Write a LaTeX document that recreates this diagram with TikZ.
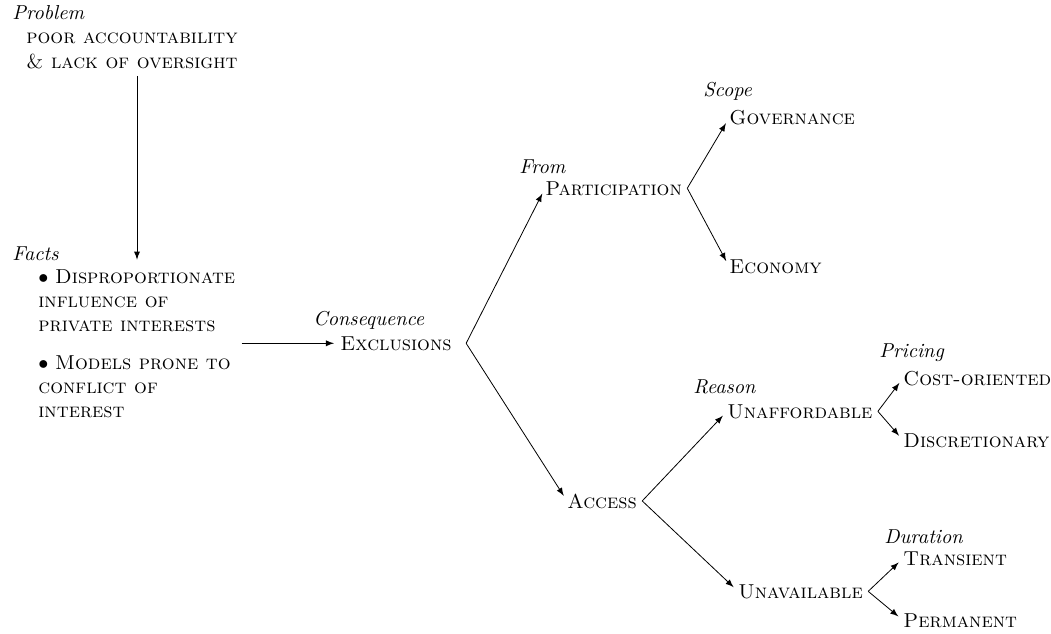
\documentclass[tikz,border=0pt]{standalone}
\usetikzlibrary{arrows.meta}
\begin{document}
\begin{tikzpicture}[x=0.496pt,y=-0.496pt,
  lbl/.style={anchor=base west,inner sep=0pt,font=\itshape},
  item/.style={anchor=base west,inner sep=0pt,font=\scshape},
  block/.style={anchor=base west,inner sep=0pt},
  link/.style={-latex,shorten >=3pt}]
\useasboundingbox (0,0) rectangle (1051,634);

% problem statement and supporting facts
\node[lbl] (lproblem) at (12,20) {Problem};
\node[block] (problem) at (26,44) {\begin{tabular}[t]{@{}l@{}}
  \textsc{poor accountability}\\
  \textsc{\& lack of oversight}
\end{tabular}};
\node[lbl] (lfacts) at (12,260) {Facts};
\node[block] (facts) at (38,283) {\begin{tabular}[t]{@{}l@{}}
  $\bullet$ \textsc{Disproportionate}\\
  \textsc{influence of}\\
  \textsc{private interests}\\[6.8pt]
  $\bullet$ \textsc{Models prone to}\\
  \textsc{conflict of}\\
  \textsc{interest}
\end{tabular}};
\coordinate (axis) at (137,0);

% consequence tree
\node[lbl] (lconseq) at (313,325) {Consequence};
\node[item] (excl) at (340,350) {Exclusions};
\node[lbl] (lfrom) at (519,173) {From};
\node[item] (part) at (545,195) {Participation};
\node[lbl] (lscope) at (703,97) {Scope};
\node[item] (gov) at (729,125) {Governance};
\node[item] (econ) at (729,273) {Economy};
\node[item] (access) at (567,508) {Access};
\node[lbl] (lreason) at (693,393) {Reason};
\node[item] (unaff) at (727,418) {Unaffordable};
\node[item] (unav) at (738,598) {Unavailable};
\node[lbl] (lpricing) at (879,357) {Pricing};
\node[item] (cost) at (903,385) {Cost-oriented};
\node[item] (disc) at (903,447) {Discretionary};
\node[lbl] (lduration) at (884,543) {Duration};
\node[item] (trans) at (903,565) {Transient};
\node[item] (perm) at (903,627) {Permanent};

% connectors: each parent's branches fan out from one point beside it
\draw[link] (problem.south -| axis) -- (facts.north -| axis);
\draw[link,shorten <=3pt] (facts.east |- excl.west) -- (excl.west);
\draw[link] ([xshift=7pt]excl.east) -- (part.west);
\draw[link] ([xshift=7pt]excl.east) -- (access.west);
\draw[link] ([xshift=2.5pt]part.east) -- (gov.west);
\draw[link] ([xshift=2.5pt]part.east) -- (econ.west);
\draw[link] ([xshift=2.5pt]access.east) -- (unaff.west);
\draw[link] ([xshift=2.5pt]access.east) -- (unav.west);
\draw[link] ([xshift=2.5pt]unaff.east) -- (cost.west);
\draw[link] ([xshift=2.5pt]unaff.east) -- (disc.west);
\draw[link] ([xshift=2.5pt]unav.east) -- (trans.west);
\draw[link] ([xshift=2.5pt]unav.east) -- (perm.west);
\end{tikzpicture}
\end{document}
